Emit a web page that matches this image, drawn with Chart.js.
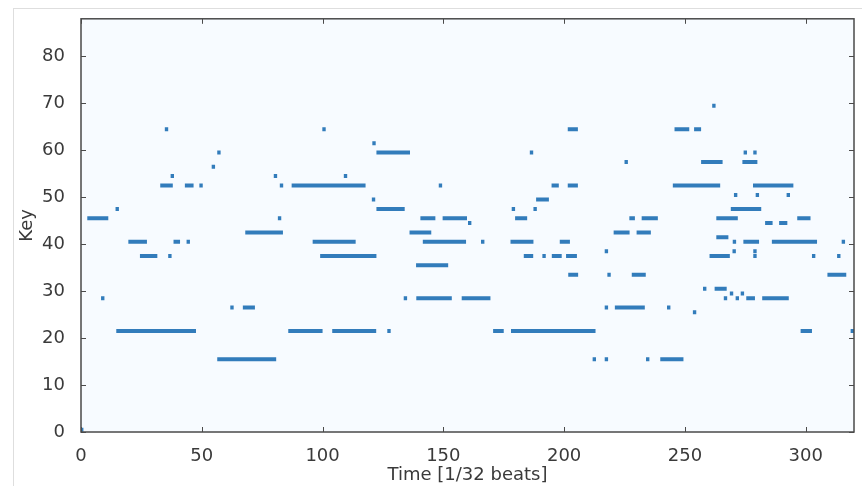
<!DOCTYPE html>
<html>
<head>
<meta charset="utf-8">
<script src="https://cdn.jsdelivr.net/npm/chart.js@4/dist/chart.umd.min.js"></script>
<style>
  body { margin: 0; background: #fff; }
  #wrap { position: relative; width: 862px; height: 486px; overflow: hidden; }
  #frame { position: absolute; left: 13px; top: 8px; width: 900px; height: 500px;
           border-left: 1px solid #dedede; border-top: 1px solid #dedede; }
  #roll { position: absolute; left: 0; top: 0; }
</style>
</head>
<body>
<div id="wrap">
  <div id="frame"></div>
  <canvas id="roll" width="862" height="486"></canvas>
</div>
<script>
// piano roll: each note is [start, end] in 1/32 beats, grouped per key
const k0 = [[0, 1]];
const k15 = [[56.4, 80.8], [211.8, 213.2], [216.8, 218.2], [233.9, 235.3], [239.8, 249.4]];
const k21 = [[14.6, 47.6], [85.8, 100], [104, 122.2], [126.8, 128.2], [170.6, 175], [178, 213], [297.9, 302.6], [318.6, 320]];
const k25 = [[253.3, 254.7]];
const k26 = [[61.8, 63.2], [67, 72], [216.8, 218.2], [221, 233.4], [242.6, 244]];
const k28 = [[8.3, 9.7], [133.6, 135], [138.8, 153.5], [157.6, 169.5], [266.1, 267.5], [271, 272.4], [275.4, 279], [282, 293]];
const k29 = [[268.6, 270], [273.1, 274.5]];
const k30 = [[257.5, 258.9], [262.3, 267.3]];
const k33 = [[201.7, 205.8], [217.9, 219.3], [228, 233.8], [309, 316.8]];
const k35 = [[138.7, 152]];
const k37 = [[24.4, 31.6], [36.1, 37.5], [99, 122.3], [183.3, 187.2], [191, 192.4], [194.9, 199], [200.8, 205.3], [260.2, 268.6], [278.3, 279.7], [302.6, 304], [313, 314.4]];
const k38 = [[216.8, 218.2], [269.7, 271.1], [278.3, 279.7]];
const k40 = [[19.6, 27.3], [38.3, 41], [43.7, 45.1], [95.9, 113.7], [141.5, 159.4], [165.6, 167], [177.8, 187.3], [198.2, 202.4], [269.8, 271.2], [274.2, 280.7], [286, 304.7], [314.9, 316.3]];
const k41 = [[263, 268]];
const k42 = [[68, 83.6], [136, 145], [220.5, 227.1], [230, 235.9]];
const k44 = [[160.2, 161.6], [283.2, 286.3], [289, 292.4]];
const k45 = [[2.6, 11.3], [81.5, 82.9], [140.5, 146.7], [149.7, 159.8], [179.7, 184.7], [227, 229.3], [232.1, 238.8], [263, 271.9], [296.5, 302]];
const k47 = [[14.3, 15.7], [122.3, 134], [178.3, 179.7], [187.3, 188.7], [269, 281.6]];
const k49 = [[120.4, 121.8], [188.4, 193.7]];
const k50 = [[270.3, 271.7], [279.3, 280.7], [292.1, 293.5]];
const k52 = [[32.8, 38], [43, 46.6], [49, 50.4], [82.3, 83.7], [87.2, 117.8], [148.1, 149.5], [194.8, 197.8], [201.5, 205.7], [245, 264.6], [278.2, 294.9]];
const k54 = [[37.1, 38.5], [79.8, 81.2], [108.8, 110.2]];
const k56 = [[54.1, 55.5]];
const k57 = [[225, 226.4], [256.7, 265.6], [273.8, 280]];
const k59 = [[56.4, 57.8], [122.3, 136.2], [185.8, 187.2], [274.3, 275.7], [278.3, 279.7]];
const k61 = [[120.6, 122]];
const k64 = [[34.7, 36.1], [99.9, 101.3], [201.5, 205.7], [245.7, 251.8], [253.8, 256.7]];
const k69 = [[261.3, 262.7]];

const rows = [
  [0, k0], [15, k15], [21, k21], [25, k25], [26, k26], [28, k28], [29, k29], [30, k30],
  [33, k33], [35, k35], [37, k37], [38, k38], [40, k40], [41, k41], [42, k42], [44, k44],
  [45, k45], [47, k47], [49, k49], [50, k50], [52, k52], [54, k54], [56, k56], [57, k57],
  [59, k59], [61, k61], [64, k64], [69, k69]
];

const xTicks = [0, 50, 100, 150, 200, 250, 300];
const yTicks = [0, 10, 20, 30, 40, 50, 60, 70, 80];
const xMax = 320;
const yMax = 88;

// one line piece per note, y at the middle of the key's cell, null breaks the line
const points = [];
rows.forEach(([key, spans]) => {
  spans.forEach(([a, b]) => {
    points.push({ x: a, y: key + 0.5 }, { x: b, y: key + 0.5 }, { x: b, y: null });
  });
});

const frame = {
  id: "frame",
  beforeDraw(chart) {
    const { ctx, chartArea: a } = chart;
    ctx.save();
    ctx.fillStyle = "#f7fbff";
    ctx.fillRect(a.left, a.top, a.right - a.left, a.bottom - a.top);
    ctx.restore();
  },
  afterDraw(chart) {
    const { ctx, chartArea: a, scales } = chart;
    ctx.save();
    ctx.strokeStyle = "#4a4a4a";
    ctx.lineWidth = 1.5;
    ctx.strokeRect(a.left, a.top, a.right - a.left, a.bottom - a.top);
    ctx.lineWidth = 1;
    ctx.beginPath();
    xTicks.forEach((v) => {
      const px = Math.round(scales.x.getPixelForValue(v)) + 0.5;
      ctx.moveTo(px, a.bottom); ctx.lineTo(px, a.bottom - 5);
      ctx.moveTo(px, a.top); ctx.lineTo(px, a.top + 5);
    });
    yTicks.forEach((v) => {
      const py = Math.round(scales.y.getPixelForValue(v)) + 0.5;
      ctx.moveTo(a.left, py); ctx.lineTo(a.left + 5, py);
      ctx.moveTo(a.right, py); ctx.lineTo(a.right - 5, py);
    });
    ctx.stroke();
    ctx.restore();
  },
};

const font = { family: "'DejaVu Sans', sans-serif", size: 18 };

new Chart(document.getElementById("roll").getContext("2d"), {
  type: "scatter",
  data: {
    datasets: [
      {
        data: points,
        showLine: true,
        spanGaps: false,
        borderColor: "rgba(33, 113, 181, 0.92)",
        borderWidth: 4,
        borderCapStyle: "butt",
        pointRadius: 0,
        pointHoverRadius: 0,
      },
    ],
  },
  options: {
    responsive: false,
    animation: false,
    events: [],
    layout: { padding: { left: 0, top: 15, right: 8, bottom: 0 } },
    plugins: { legend: { display: false }, tooltip: { enabled: false } },
    scales: {
      x: {
        type: "linear",
        min: 0,
        max: xMax,
        afterFit: (s) => { s.height = 54; },
        afterBuildTicks: (s) => { s.ticks = xTicks.map((v) => ({ value: v })); },
        grid: { display: false },
        border: { display: false },
        ticks: { font: font, color: "#3a3a3a", padding: 6, maxRotation: 0 },
        title: { display: true, text: "Time [1/32 beats]", font: font, color: "#3a3a3a", padding: { top: 0, bottom: 0 } },
      },
      y: {
        type: "linear",
        min: 0,
        max: yMax,
        afterFit: (s) => { s.width = 81; },
        afterBuildTicks: (s) => { s.ticks = yTicks.map((v) => ({ value: v })); },
        grid: { display: false },
        border: { display: false },
        ticks: { font: font, color: "#3a3a3a", padding: 8 },
        title: { display: true, text: "Key", font: font, color: "#3a3a3a", padding: { top: 17, bottom: 0 } },
      },
    },
  },
  plugins: [frame],
});
</script>
</body>
</html>
